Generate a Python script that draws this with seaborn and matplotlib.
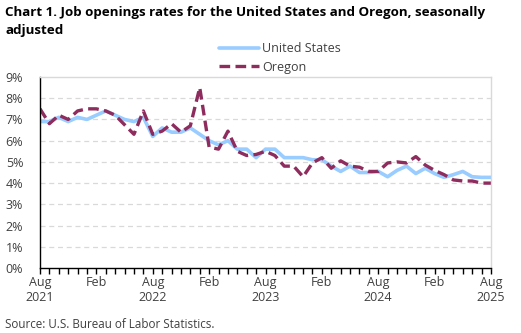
import numpy as np
import pandas as pd
import matplotlib
matplotlib.use("Agg")
import matplotlib.pyplot as plt
import seaborn as sns

months = pd.date_range("2021-08-01", "2025-08-01", freq="MS")
us = [6.9, 6.9, 7.1, 6.9, 7.1, 7.0, 7.2, 7.4, 7.2, 7.0, 6.9, 7.1, 6.2, 6.6, 6.4, 6.4,
      6.6, 6.3, 6.0, 5.8, 6.0, 5.6, 5.6, 5.2, 5.6, 5.6, 5.2, 5.2, 5.2, 5.1, 5.1, 4.8,
      4.55, 4.8, 4.5, 4.5, 4.55, 4.3, 4.6, 4.8, 4.45, 4.7, 4.45, 4.27, 4.4, 4.55, 4.3,
      4.27, 4.27]
oregon = [7.5, 6.8, 7.2, 7.0, 7.4, 7.5, 7.5, 7.4, 7.2, 6.75, 6.3, 7.4, 6.3, 6.45, 6.8,
          6.4, 6.7, 8.5, 5.7, 5.6, 6.45, 5.5, 5.3, 5.35, 5.5, 5.3, 4.8, 4.8, 4.3, 4.95,
          5.2, 4.7, 5.05, 4.8, 4.75, 4.55, 4.55, 4.95, 5.0, 4.95, 5.25, 4.85, 4.6, 4.4,
          4.15, 4.1, 4.1, 4.0, 4.0]
x_labels = ["Aug\n2021", "Feb", "Aug\n2022", "Feb", "Aug\n2023", "Feb", "Aug\n2024", "Feb", "Aug\n2025"]
y_ticks = [0, 1, 2, 3, 4, 5, 6, 7, 8, 9]

df = pd.DataFrame({"idx": np.arange(len(months)), "United States": us, "Oregon": oregon})

sns.set_theme(style="white")
plt.rcParams["font.family"] = ["Open Sans", "DejaVu Sans"]

W, H = 521, 333
fig = plt.figure(figsize=(W / 100, H / 100), dpi=100)
ax = fig.add_axes([40 / W, (H - 268) / H, (491 - 40) / W, (268 - 77) / H])

us_color = "#99CCFF"
or_color = "#8E2C5E"
sns.lineplot(data=df, x="idx", y="United States", ax=ax, color=us_color, lw=2.6,
             label="United States")
sns.lineplot(data=df, x="idx", y="Oregon", ax=ax, color=or_color, lw=2.4,
             label="Oregon", dashes=False)
ax.lines[1].set_linestyle((0, (3.2, 1.6)))

ax.set_xlim(0, len(months) - 1)
ax.set_ylim(0, 9)
ax.set_xlabel("")
ax.set_ylabel("")
ax.set_yticks(y_ticks)
ax.set_yticklabels([f"{v}%" for v in y_ticks])
ax.set_xticks(np.arange(0, len(months), 6))
ax.set_xticklabels(x_labels)
ax.set_xticks(np.arange(len(months)), minor=True)
ax.tick_params(axis="x", which="both", direction="out", length=4, width=1, color="black",
               bottom=True, labelsize=9, labelcolor="#404040", pad=2)
ax.tick_params(axis="y", left=False, labelsize=9, labelcolor="#404040", pad=6)

for v in range(1, 9):
    ax.axhline(v, color="#D9D9D9", lw=0.9, ls=(0, (4, 3)), zorder=0)

for side in ["top", "right"]:
    ax.spines[side].set_color("#D9D9D9")
    ax.spines[side].set_linewidth(1)
for side in ["left", "bottom"]:
    ax.spines[side].set_color("black")
    ax.spines[side].set_linewidth(1)

leg = ax.legend(loc="center", bbox_to_anchor=(280 / W, (H - 58) / H),
                bbox_transform=fig.transFigure, frameon=False, fontsize=9,
                handlelength=3.2, handletextpad=0.3, labelspacing=0.45, borderpad=0)
for t in leg.get_texts():
    t.set_color("#404040")

fig.text(5 / W, 1 - 6 / H, "Chart 1. Job openings rates for the United States and Oregon, seasonally\nadjusted",
         ha="left", va="top", fontsize=9.6, fontweight="bold", color="black", linespacing=1.5)
fig.text(5 / W, 1 - 324 / H, "Source: U.S. Bureau of Labor Statistics.", ha="left", va="center",
         fontsize=8.4, color="#404040")

fig.savefig("out.png", dpi=100)
